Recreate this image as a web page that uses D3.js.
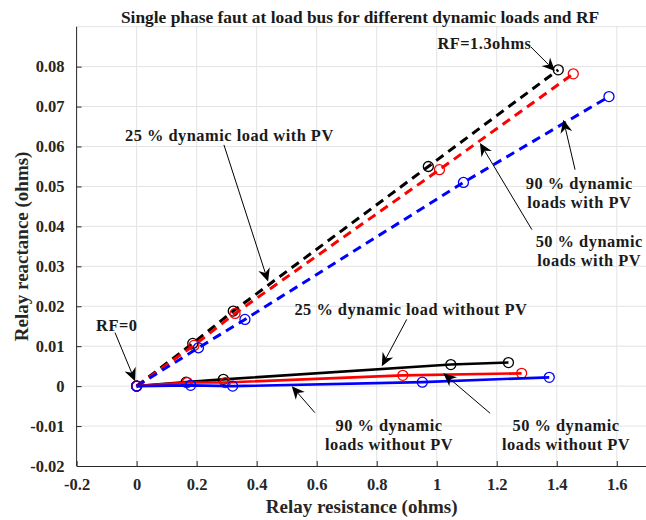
<!DOCTYPE html>
<html>
<head>
<meta charset="utf-8">
<script src="https://cdn.jsdelivr.net/npm/d3@7"></script>
<style>
  html, body { margin: 0; padding: 0; background: #fff; }
  svg { display: block; }
  text { font-family: "Liberation Serif", "Times New Roman", serif; font-weight: bold; }
</style>
</head>
<body>
<svg id="chart" width="646" height="520"></svg>
<script>
// Relay impedance trajectories (resistance, reactance in ohms) for fault
// resistance stepping from RF=0 up to RF=1.3 ohms.
const resWithPV25 = [0, 0.187, 0.322, 0.972, 1.405];
const reaWithPV25 = [0, 0.0107, 0.0188, 0.0550, 0.0792];
const resWithPV50 = [0, 0.191, 0.328, 1.009, 1.455];
const reaWithPV50 = [0, 0.0102, 0.0182, 0.0542, 0.0782];
const resWithPV90 = [0, 0.206, 0.361, 1.089, 1.574];
const reaWithPV90 = [0, 0.0096, 0.0167, 0.0510, 0.0725];

const resNoPV25 = [0, 0.165, 0.289, 1.047, 1.239];
const reaNoPV25 = [0, 0.0010, 0.0017, 0.0054, 0.0059];
const resNoPV50 = [0, 0.169, 0.295, 0.887, 1.283];
const reaNoPV50 = [0, 0.0009, 0.0009, 0.0027, 0.0032];
const resNoPV90 = [0, 0.180, 0.320, 0.952, 1.375];
const reaNoPV90 = [0, 0.0002, 0.0000, 0.0010, 0.0022];

const xTicks = [-0.2, 0, 0.2, 0.4, 0.6, 0.8, 1, 1.2, 1.4, 1.6, 1.8];
const yTicks = [-0.02, -0.01, 0, 0.01, 0.02, 0.03, 0.04, 0.05, 0.06, 0.07, 0.08, 0.09];

const titleText = "Single phase faut at load bus for different dynamic loads and RF";
const xLabelText = "Relay resistance (ohms)";
const yLabelText = "Relay reactance (ohms)";

// Callouts: text lines with centre point, and arrow from tail to tip (data units)
const callouts = [
  { lines: ["RF=1.3ohms"], at: [1.159, 0.0859], tail: [1.314, 0.0849], tip: [1.394, 0.0789] },
  { lines: ["25 % dynamic load with PV"], at: [0.309, 0.0629], tail: [0.291, 0.0604], tip: [0.438, 0.0262] },
  { lines: ["90 % dynamic", "loads with PV"], at: [1.475, 0.0484], tail: [1.461, 0.0542], tip: [1.422, 0.0667] },
  { lines: ["50 % dynamic", "loads with PV"], at: [1.508, 0.0339], tail: [1.317, 0.0392], tip: [1.144, 0.0609] },
  { lines: ["RF=0"], at: [-0.066, 0.0152], tail: [-0.072, 0.0134], tip: [-0.005, 0.00125] },
  { lines: ["25 % dynamic load without PV"], at: [0.914, 0.0192], tail: [0.900, 0.0167], tip: [0.817, 0.0050] },
  { lines: ["90 % dynamic", "loads without PV"], at: [0.841, -0.0122], tail: [0.594, -0.00665], tip: [0.517, 0.0] },
  { lines: ["50 % dynamic", "loads without PV"], at: [1.431, -0.0122], tail: [1.178, -0.0068], tip: [1.022, 0.0032] }
];

const series = [
  { xs: resWithPV25, ys: reaWithPV25, color: "#000000", dashed: true },
  { xs: resWithPV50, ys: reaWithPV50, color: "#ff0000", dashed: true },
  { xs: resWithPV90, ys: reaWithPV90, color: "#0000ff", dashed: true },
  { xs: resNoPV25, ys: reaNoPV25, color: "#000000", dashed: false },
  { xs: resNoPV50, ys: reaNoPV50, color: "#ff0000", dashed: false },
  { xs: resNoPV90, ys: reaNoPV90, color: "#0000ff", dashed: false }
];

const svg = d3.select("#chart");
const margin = { left: 76.6, right: -0.8, top: 26.7, bottom: 54 };
const W = 646, H = 520;

const x = d3.scaleLinear().domain([-0.2, 1.7]).range([margin.left, W - margin.right]);
const y = d3.scaleLinear().domain([-0.02, 0.09]).range([H - margin.bottom, margin.top]);

const axisColor = "#262626";
const fmt = d => d3.format("~g")(d).replace("\u2212", "-");

// grid
const grid = svg.append("g").attr("stroke", "#e3e3e3").attr("stroke-width", 1);
grid.selectAll("line.gx").data(xTicks.filter(t => t > -0.2 && t <= 1.7)).join("line")
  .attr("x1", d => x(d)).attr("x2", d => x(d))
  .attr("y1", y(-0.02)).attr("y2", y(0.09));
grid.selectAll("line.gy").data(yTicks.filter(t => t > -0.02)).join("line")
  .attr("x1", x(-0.2)).attr("x2", x(1.7))
  .attr("y1", d => y(d)).attr("y2", d => y(d));

// axes with inward ticks
const xAxis = d3.axisBottom(x).tickValues(xTicks.filter(t => t <= 1.7))
  .tickSizeInner(-5).tickSizeOuter(0).tickPadding(12).tickFormat(fmt);
const yAxis = d3.axisLeft(y).tickValues(yTicks.filter(t => t <= 0.08))
  .tickSizeInner(-5).tickSizeOuter(0).tickPadding(12).tickFormat(fmt);

const gx = svg.append("g").attr("transform", `translate(0,${y(-0.02)})`).call(xAxis);
const gy = svg.append("g").attr("transform", `translate(${x(-0.2)},0)`).call(yAxis);
[gx, gy].forEach(g => {
  g.select(".domain").attr("stroke", axisColor).attr("stroke-width", 1);
  g.selectAll(".tick line").attr("stroke", axisColor);
  g.selectAll(".tick text").attr("fill", axisColor)
    .style("font-family", '"Liberation Serif", serif').style("font-weight", "bold").style("font-size", "16.5px");
});
// y axis line continues to top of plot
gy.select(".domain").attr("d", `M0,${y(-0.02)}V${y(0.09)}`);

// lines
const line = d3.line().x(d => x(d[0])).y(d => y(d[1]));
const plot = svg.append("g");
series.forEach(s => {
  const pts = s.xs.map((v, i) => [v, s.ys[i]]);
  plot.append("path").datum(pts)
    .attr("d", line)
    .attr("fill", "none")
    .attr("stroke", s.color)
    .attr("stroke-width", s.dashed ? 3 : 2.6)
    .attr("stroke-dasharray", s.dashed ? "9,6" : null);
  plot.selectAll(null).data(pts).join("circle")
    .attr("cx", d => x(d[0])).attr("cy", d => y(d[1]))
    .attr("r", 5).attr("fill", "none")
    .attr("stroke", s.color).attr("stroke-width", 1.3);
});

// title and axis labels
svg.append("text").attr("x", 360).attr("y", 17).attr("dy", "0.35em")
  .attr("text-anchor", "middle").attr("fill", "#1a1a1a").style("font-size", "17.4px")
  .text(titleText);
svg.append("text").attr("x", (x(-0.2) + x(1.7)) / 2).attr("y", 506).attr("dy", "0.35em")
  .attr("text-anchor", "middle").attr("fill", axisColor).style("font-size", "19px")
  .text(xLabelText);
svg.append("text")
  .attr("transform", `translate(21,${(y(-0.02) + y(0.09)) / 2}) rotate(-90)`)
  .attr("dy", "0.35em").attr("text-anchor", "middle").attr("fill", axisColor).style("font-size", "19px")
  .text(yLabelText);

// callouts
const ann = svg.append("g");
function arrow(tail, tip) {
  const x0 = x(tail[0]), y0 = y(tail[1]), x1 = x(tip[0]), y1 = y(tip[1]);
  const ang = Math.atan2(y1 - y0, x1 - x0);
  const L = 13, Wd = 6, notch = 4;
  const ux = Math.cos(ang), uy = Math.sin(ang), px = -uy, py = ux;
  const bx = x1 - ux * L, by = y1 - uy * L;
  const nx = x1 - ux * (L - notch), ny = y1 - uy * (L - notch);
  ann.append("line").attr("x1", x0).attr("y1", y0).attr("x2", nx).attr("y2", ny)
    .attr("stroke", "#000").attr("stroke-width", 1);
  ann.append("path")
    .attr("d", `M${x1},${y1}L${bx + px * Wd},${by + py * Wd}L${nx},${ny}L${bx - px * Wd},${by - py * Wd}Z`)
    .attr("fill", "#000");
}
callouts.forEach(c => {
  const t = ann.append("text").attr("text-anchor", "middle").attr("fill", "#1a1a1a")
    .style("font-size", "16.4px").style("letter-spacing", "0.5px");
  const n = c.lines.length;
  c.lines.forEach((ln, i) => {
    t.append("tspan").attr("x", x(c.at[0]))
      .attr("y", y(c.at[1]) + (i - (n - 1) / 2) * 19.5)
      .attr("dy", "0.35em").text(ln);
  });
  arrow(c.tail, c.tip);
});
</script>
</body>
</html>
